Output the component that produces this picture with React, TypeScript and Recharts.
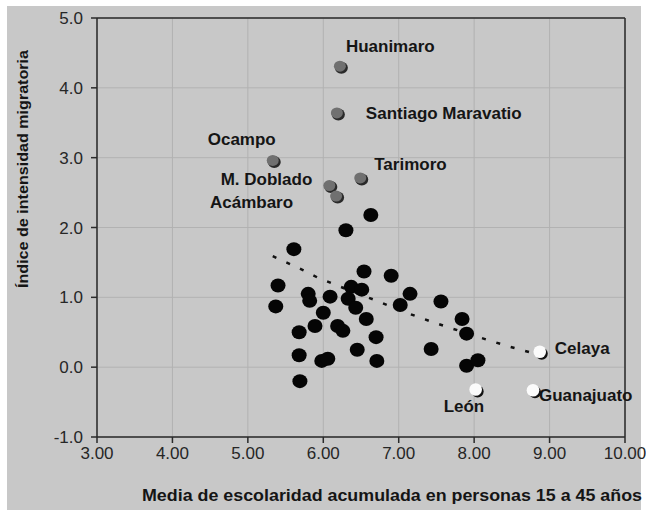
import React from "react";
import {
  ScatterChart,
  Scatter,
  XAxis,
  YAxis,
  CartesianGrid,
  ReferenceLine,
} from "recharts";

// ---- data ----
const xTicks = [3, 4, 5, 6, 7, 8, 9, 10];
const yTicks = [-1, 0, 1, 2, 3, 4, 5];

const blackPoints = [
  { x: 6.63, y: 2.18 }, { x: 6.3, y: 1.96 }, { x: 5.61, y: 1.69 }, { x: 6.54, y: 1.37 },
  { x: 5.4, y: 1.17 }, { x: 5.37, y: 0.87 }, { x: 5.8, y: 1.05 }, { x: 5.82, y: 0.95 },
  { x: 6.09, y: 1.01 }, { x: 6.37, y: 1.15 }, { x: 6.51, y: 1.11 }, { x: 6.33, y: 0.98 },
  { x: 6.43, y: 0.85 }, { x: 6.57, y: 0.69 }, { x: 6.0, y: 0.78 }, { x: 5.89, y: 0.59 },
  { x: 6.19, y: 0.59 }, { x: 6.26, y: 0.52 }, { x: 5.68, y: 0.5 }, { x: 5.68, y: 0.17 },
  { x: 5.98, y: 0.09 }, { x: 6.06, y: 0.12 }, { x: 6.45, y: 0.25 }, { x: 6.71, y: 0.09 },
  { x: 5.69, y: -0.2 }, { x: 6.7, y: 0.43 }, { x: 6.9, y: 1.31 }, { x: 7.15, y: 1.05 },
  { x: 7.02, y: 0.89 }, { x: 7.56, y: 0.94 }, { x: 7.84, y: 0.69 }, { x: 7.9, y: 0.48 },
  { x: 7.43, y: 0.26 }, { x: 7.9, y: 0.02 }, { x: 8.05, y: 0.1 },
];

const grayPoints = [
  { x: 6.22, y: 4.31, name: "Huanimaro" },
  { x: 6.18, y: 3.64, name: "Santiago Maravatio" },
  { x: 5.33, y: 2.96, name: "Ocampo" },
  { x: 6.49, y: 2.71, name: "Tarimoro" },
  { x: 6.08, y: 2.6, name: "M. Doblado" },
  { x: 6.17, y: 2.45, name: "Acámbaro" },
];

const whitePoints = [
  { x: 8.87, y: 0.22, name: "Celaya" },
  { x: 8.02, y: -0.32, name: "León" },
  { x: 8.78, y: -0.33, name: "Guanajuato" },
];

const trendPoints = [
  { x: 5.33, y: 1.59 }, { x: 5.73, y: 1.39 }, { x: 5.93, y: 1.28 }, { x: 6.3, y: 1.12 },
  { x: 6.71, y: 0.95 }, { x: 7.1, y: 0.78 }, { x: 7.49, y: 0.63 }, { x: 8.06, y: 0.43 },
  { x: 8.45, y: 0.3 }, { x: 8.85, y: 0.18 },
];

const xTitle = "Media de escolaridad acumulada en personas 15 a 45 años";
const yTitle = "Índice de intensidad migratoria";

// ---- styles ----
const labelPos: Record<string, { dx: number; dy: number; anchor: "start" | "end" }> = {
  Huanimaro: { dx: 6, dy: -14, anchor: "start" },
  "Santiago Maravatio": { dx: 29, dy: 6, anchor: "start" },
  Ocampo: { dx: 3, dy: -15, anchor: "end" },
  Tarimoro: { dx: 14, dy: -8, anchor: "start" },
  "M. Doblado": { dx: -17, dy: -1, anchor: "end" },
  Acámbaro: { dx: -43, dy: 12, anchor: "end" },
  Celaya: { dx: 15, dy: 2, anchor: "start" },
  León: { dx: -32, dy: 22, anchor: "start" },
  Guanajuato: { dx: 6, dy: 11, anchor: "start" },
};

const FONT = "'Liberation Sans', Arial, sans-serif";

const Label = ({ cx, cy, name }: { cx: number; cy: number; name: string }) => {
  const p = labelPos[name];
  if (!p) return null;
  return (
    <text
      x={cx + p.dx}
      y={cy + p.dy}
      textAnchor={p.anchor}
      fontFamily={FONT}
      fontWeight="bold"
      fontSize={17}
      fill="#151515"
    >
      {name}
    </text>
  );
};

const BlackDot = (p: any) => (
  <ellipse cx={p.cx} cy={p.cy} rx={7.5} ry={7} fill="#050505" />
);

const GrayDot = (p: any) => (
  <g>
    <ellipse cx={p.cx + 1.5} cy={p.cy + 1.5} rx={6.5} ry={6} fill="#2a2a2a" />
    <ellipse cx={p.cx} cy={p.cy} rx={6} ry={5.5} fill="#707070" />
    <Label cx={p.cx} cy={p.cy} name={p.payload?.name} />
  </g>
);

const WhiteDot = (p: any) => (
  <g>
    <circle cx={p.cx + 2} cy={p.cy + 2} r={6} fill="#111" />
    <circle cx={p.cx} cy={p.cy} r={6.3} fill="#fbfbfb" />
    <Label cx={p.cx} cy={p.cy} name={p.payload?.name} />
  </g>
);

const NoDot = () => <g />;

const XTitle = () => (
  <text
    x={142}
    y={501}
    fontFamily={FONT}
    fontWeight="bold"
    fontSize={16}
    fill="#151515"
    textLength={500}
    lengthAdjust="spacingAndGlyphs"
  >
    {xTitle}
  </text>
);

const YTitle = () => (
  <text
    x={0}
    y={0}
    transform="translate(28, 288) rotate(-90)"
    fontFamily={FONT}
    fontWeight="bold"
    fontSize={15}
    fill="#151515"
    textLength={238}
    lengthAdjust="spacingAndGlyphs"
  >
    {yTitle}
  </text>
);

export default function App() {
  return (
    <div
      style={{
        position: "absolute",
        left: 0,
        top: 0,
        width: 646,
        height: 510,
        background: "#ffffff",
        overflow: "hidden",
      }}
    >
      <div
        style={{
          position: "absolute",
          left: 7,
          top: 6,
          width: 634,
          height: 504,
          background: "#c8c8c8",
        }}
      />
      <div style={{ position: "absolute", left: 0, top: 0 }}>
        <ScatterChart
          width={646}
          height={510}
          margin={{ top: 18, right: 21, bottom: 0, left: 0 }}
          style={{ overflow: "visible" }}
        >
          <CartesianGrid stroke="#b2b2b2" strokeWidth={1} />
          <XAxis
            type="number"
            dataKey="x"
            domain={[3, 10]}
            ticks={xTicks}
            tickFormatter={(v: number) => v.toFixed(2)}
            height={73}
            stroke="#2a2a2a"
            strokeWidth={1.5}
            tickSize={6}
            tickMargin={4}
            tick={{ fill: "#262626", fontSize: 17, fontFamily: FONT }}
          />
          <YAxis
            type="number"
            dataKey="y"
            domain={[-1, 5]}
            ticks={yTicks}
            tickFormatter={(v: number) => v.toFixed(1)}
            width={97}
            stroke="#2a2a2a"
            strokeWidth={1.5}
            tickSize={6}
            tickMargin={8}
            tick={{ fill: "#262626", fontSize: 17, fontFamily: FONT }}
          />
          <ReferenceLine y={5} stroke="#2a2a2a" strokeWidth={1.5} />
          <ReferenceLine x={10} stroke="#2a2a2a" strokeWidth={1.5} />
          <Scatter
            data={trendPoints}
            shape={NoDot}
            line={{ stroke: "#111", strokeWidth: 2.5, strokeDasharray: "4 11" }}
            lineType="joint"
            isAnimationActive={false}
          />
          <Scatter data={blackPoints} shape={BlackDot} isAnimationActive={false} />
          <Scatter data={grayPoints} shape={GrayDot} isAnimationActive={false} />
          <Scatter data={whitePoints} shape={WhiteDot} isAnimationActive={false} />
        </ScatterChart>
      </div>
      <svg
        width={646}
        height={510}
        style={{ position: "absolute", left: 0, top: 0, pointerEvents: "none" }}
      >
        <XTitle />
        <YTitle />
      </svg>
    </div>
  );
}
